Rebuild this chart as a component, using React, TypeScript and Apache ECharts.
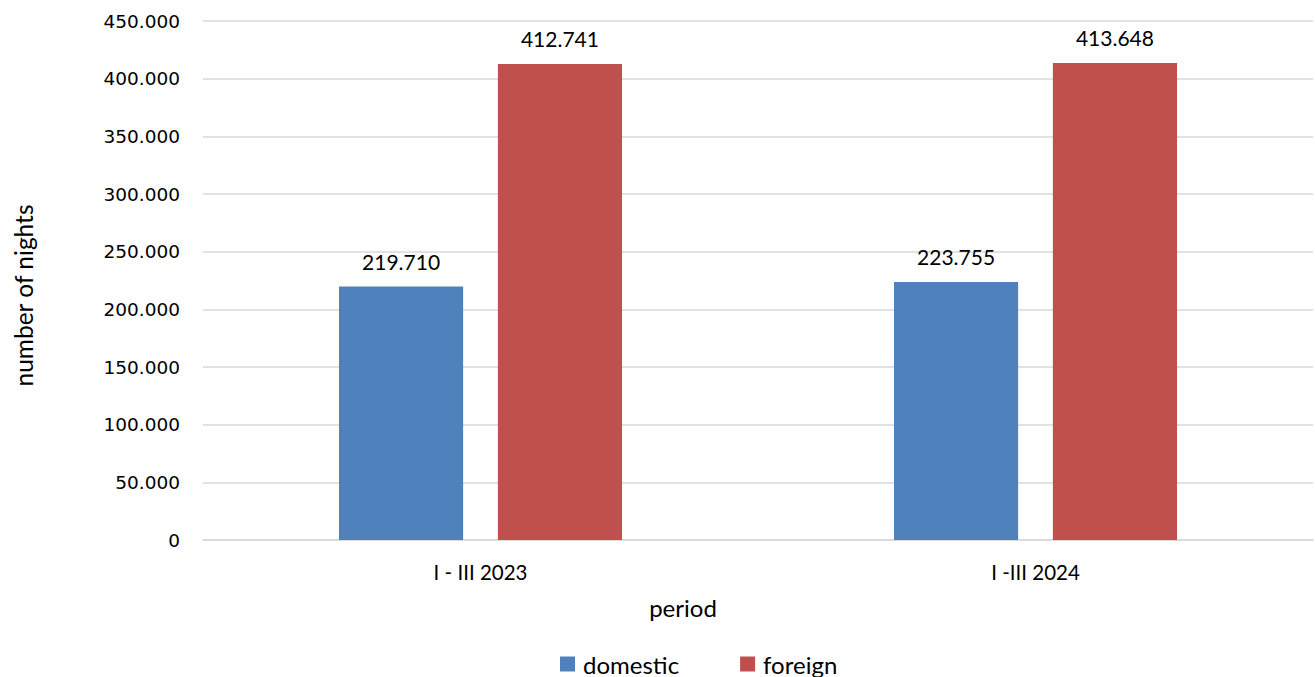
import React, { useEffect, useRef } from "react";
import * as echarts from "echarts";

const categories = ["I - III 2023", "I -III 2024"];
const domestic = [219710, 223755];
const foreign = [412741, 413648];
const seriesNames = ["domestic", "foreign"];

const fmt = (v: number) => {
  if (v === 0) return "0";
  const s = Math.round(v).toString();
  return s.replace(/\B(?=(\d{3})+(?!\d))/g, ".");
};

const textFont = "Lato, 'Open Sans', sans-serif";

export default function App() {
  const ref = useRef<HTMLDivElement>(null);
  useEffect(() => {
    if (!ref.current) return;
    const chart = echarts.init(ref.current, undefined, { renderer: "svg" });
    const labelCfg = {
      show: true,
      position: "top" as const,
      distance: 15,
      formatter: (p: any) => fmt(p.value),
      color: "#000",
      fontSize: 21,
      fontFamily: textFont,
    };
    chart.setOption({
      animation: false,
      grid: { left: 203, right: 2, top: 21, bottom: 137, containLabel: false },
      legend: {
        top: 652,
        left: 560,
        padding: 0,
        itemWidth: 15,
        itemHeight: 15,
        itemGap: 61,
        icon: "rect",
        textStyle: { fontSize: 24, fontFamily: textFont, color: "#000", padding: [0, 0, 0, 3] },
        data: seriesNames,
      },
      xAxis: {
        type: "category",
        data: categories,
        name: "period",
        nameLocation: "middle",
        nameGap: 55,
        nameTextStyle: { fontSize: 24, fontFamily: textFont, color: "#000", padding: [0, 150, 0, 0] },
        axisLine: { lineStyle: { color: "#d9d9d9", width: 1.5 } },
        axisTick: { show: false },
        axisLabel: { fontSize: 20.5, fontFamily: textFont, color: "#000", margin: 21 },
      },
      yAxis: {
        type: "value",
        min: 0,
        max: 450000,
        interval: 50000,
        name: "number of nights",
        nameLocation: "middle",
        nameGap: 167,
        nameRotate: 90,
        nameTextStyle: { fontSize: 24.5, fontFamily: textFont, color: "#000", padding: [0, 30, 0, 0] },
        axisLabel: {
          formatter: (v: number) => fmt(v),
          fontSize: 18.5,
          fontFamily: "'DejaVu Sans', sans-serif",
          color: "#000",
          margin: 23,
        },
        splitLine: { lineStyle: { color: "#d9d9d9", width: 1.5 } },
        axisLine: { show: false },
        axisTick: { show: false },
      },
      series: [
        {
          name: seriesNames[0],
          type: "bar",
          data: domestic,
          itemStyle: { color: "#4F81BD" },
          barGap: "28%",
          barCategoryGap: "49%",
          label: labelCfg,
        },
        {
          name: seriesNames[1],
          type: "bar",
          data: foreign,
          itemStyle: { color: "#C0504D" },
          barGap: "28%",
          barCategoryGap: "49%",
          label: labelCfg,
        },
      ],
    });
    return () => chart.dispose();
  }, []);
  return (
    <div
      ref={ref}
      style={{ position: "absolute", left: 0, top: 0, width: 1315, height: 677, overflow: "hidden" }}
    />
  );
}
